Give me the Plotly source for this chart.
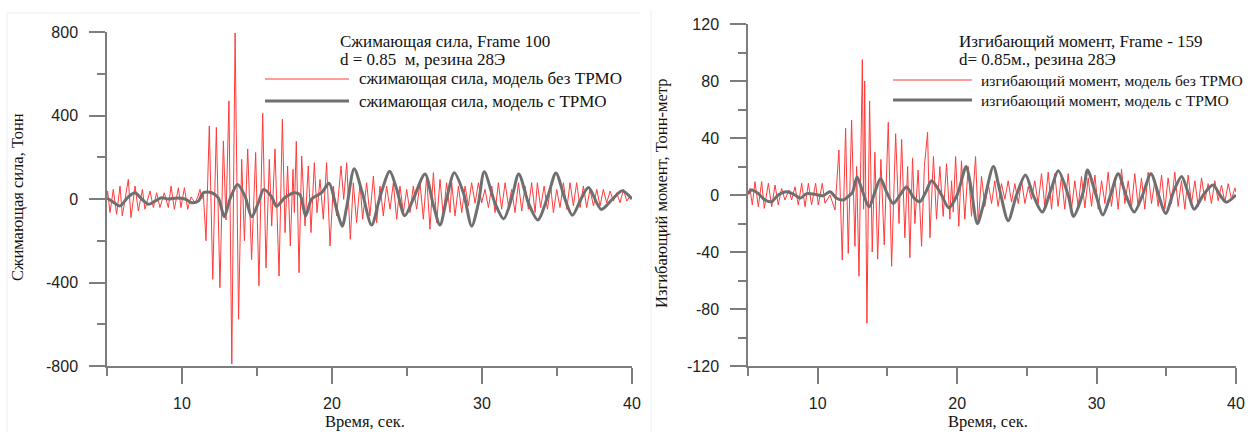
import plotly.graph_objects as go

# ---------------- Сжимающая сила, Frame 100 ----------------
force_t_free = [5.00, 5.04, 5.20, 5.42, 5.64, 5.87, 6.02, 6.42, 6.60, 6.87, 7.09, 7.36, 7.53, 7.87, 8.09,
                8.31, 8.53, 8.82, 9.09, 9.27, 9.49, 9.76, 9.93, 10.16, 10.38, 10.60, 10.87, 11.05, 11.20,
                11.32, 11.42, 11.60, 11.82, 12.05, 12.29, 12.53, 12.76, 12.93, 13.13, 13.32, 13.54, 13.77,
                13.98, 14.16, 14.38, 14.64, 14.91, 15.13, 15.38, 15.60, 15.82, 15.98, 16.20, 16.47, 16.69,
                16.87, 17.04, 17.22, 17.40, 17.49, 17.62, 17.80, 17.98, 18.20, 18.42, 18.60, 18.82, 19.00,
                19.20, 19.42, 19.64, 19.87, 20.09, 20.31, 20.60, 20.78, 20.98, 21.22, 21.42, 21.64, 21.87,
                22.04, 22.31, 22.53, 22.76, 22.98, 23.20, 23.42, 23.64, 23.87, 24.09, 24.31, 24.53, 24.76,
                24.98, 25.20, 25.42, 25.64, 25.87, 26.09, 26.31, 26.53, 26.76, 26.98, 27.20, 27.42, 27.64,
                27.87, 27.98, 28.20, 28.43, 28.65, 28.87, 29.09, 29.31, 29.54, 29.76, 29.98, 30.20, 30.43,
                30.65, 30.87, 31.09, 31.31, 31.54, 31.76, 31.98, 32.20, 32.43, 32.65, 32.87, 33.09, 33.31,
                33.54, 33.69, 33.91, 34.14, 34.36, 34.58, 34.76, 34.98, 35.20, 35.43, 35.65, 35.87, 36.09,
                36.31, 36.54, 36.76, 36.98, 37.20, 37.43, 37.65, 37.87, 38.09, 38.31, 38.54, 38.76, 38.98,
                39.20, 39.43, 39.65, 39.87, 40.00]
force_v_free = [10, 38, -65, 46, -73, 62, -81, 94, -89, 62, -57, 46, -49, 38, -41,
                30, -41, 30, -41, 62, -49, 54, -41, 54, -49, 10, -18, 10, 46,
                0, 30, -200, 350, -385, 343, -425, 278, -100, 470, -790, 795, -576,
                190, -200, 240, -290, 223, -416, 410, -330, 190, -130, 240, -369, 382,
                -161, 158, -225, 142, -65, 276, -353, 206, -129, 158, -161, 174, -65,
                94, -97, 174, -225, 62, -81, 158, -2, 174, -193, 78, -113, 78,
                -97, 78, -81, 110, -113, 62, -81, 62, -49, 78, -97, 62, -65,
                46, -65, 62, -49, 78, -97, 110, -145, 126, -113, 94, -81, 78,
                -65, 78, -81, 62, -65, 62, -33, 78, -20, 78, -18, 46, -41,
                62, -65, 78, -49, 78, -33, 46, -65, 78, -57, 62, -49, 78,
                -65, 78, -41, 62, -49, 62, -65, 46, -41, 78, -49, 78, -33,
                78, -41, 62, -41, 46, -33, 46, -33, 46, -18, 38, -10, 30,
                -18, 46, -10, 14, 0]

force_t_tmd = [5.00, 5.42, 5.87, 6.42, 6.87, 7.31, 7.76, 8.20, 8.64, 9.09, 9.64, 10.20, 10.64, 11.09,
               11.42, 11.98, 12.42, 12.82, 13.20, 13.70, 14.20, 14.64, 15.09, 15.45, 15.98, 16.30, 16.87,
               17.53, 17.87, 18.24, 18.64, 19.31, 19.80, 20.31, 20.68, 21.00, 21.48, 22.02, 22.64, 23.20,
               23.85, 24.30, 24.85, 25.42, 26.20, 26.76, 27.20, 27.64, 28.15, 28.76, 29.31, 29.76, 30.15,
               30.87, 31.45, 32.00, 32.45, 33.10, 33.72, 34.42, 34.93, 35.53, 36.02, 36.60, 37.10, 37.95,
               38.70, 39.35, 40.00]
force_v_tmd = [5, -15, -33, 10, 30, 0, -25, -10, 6, 0, 5, 0, -18, -10,
               30, 30, 5, -85, 0, 70, 14, -85, -18, 46, 10, -35, 7,
               30, 20, -81, 0, 30, 75, -50, -130, -30, 145, 30, -125, 10,
               133, 50, -80, 0, 120, -30, -125, 0, 126, 30, -130, -20, 130,
               -20, -95, 10, 120, -20, -100, 20, 125, 0, -78, 0, 55, -50,
               0, 40, 0]

force_ticks = [-800, -400, 0, 400, 800]
force_tick_text = ["-800", "-400", "0", "400", "800"]

# ---------------- Изгибающий момент, Frame - 159 ----------------
moment_t_free = [5.00, 5.14, 5.31, 5.50, 5.74, 5.98, 6.17, 6.46, 6.70, 6.94, 7.17, 7.41, 7.65, 7.94, 8.13,
                 8.37, 8.61, 8.85, 9.09, 9.33, 9.56, 9.85, 10.04, 10.33, 10.52, 10.88, 11.24, 11.52, 11.76,
                 12.00, 12.19, 12.43, 12.67, 12.79, 12.96, 13.20, 13.29, 13.37, 13.53, 13.72, 13.91, 14.10,
                 14.30, 14.53, 14.77, 15.06, 15.30, 15.59, 15.83, 16.02, 16.25, 16.45, 16.61, 16.80, 16.97,
                 17.20, 17.45, 17.65, 17.88, 18.05, 18.30, 18.52, 18.76, 19.00, 19.24, 19.48, 19.60, 19.72,
                 19.89, 20.12, 20.31, 20.55, 20.79, 21.03, 21.32, 21.51, 21.75, 21.99, 22.23, 22.47, 22.70,
                 22.94, 23.18, 23.42, 23.66, 23.90, 24.14, 24.38, 24.62, 24.86, 25.10, 25.33, 25.57, 25.81,
                 26.05, 26.29, 26.53, 26.77, 27.00, 27.24, 27.48, 27.72, 27.96, 28.20, 28.44, 28.68, 28.92,
                 29.16, 29.40, 29.64, 29.88, 30.12, 30.36, 30.60, 30.83, 31.07, 31.31, 31.55, 31.79, 32.03,
                 32.27, 32.50, 32.74, 32.98, 33.22, 33.46, 33.70, 33.94, 34.18, 34.42, 34.66, 34.90, 35.13,
                 35.37, 35.61, 35.85, 36.09, 36.33, 36.57, 36.81, 37.05, 37.29, 37.53, 37.77, 38.00, 38.24,
                 38.48, 38.72, 38.96, 39.20, 39.44, 39.68, 39.92, 40.00]
moment_v_free = [0, 4.7, -7, 9.4, -8.2, 9.4, -9.4, 8.2, -8.2, 7, -7, 4.7, -3.5, 3.5, -3.5,
                 5.8, -7, 8.2, -8.2, 8.2, -7, 8.2, -7, 8.2, -5.8, 0, -10.5, 31.6, -45.6,
                 46.8, -41, 52.6, -36, 20, -57, 95, -10, 80, -90, 66, -40, 30,
                 -45, 25, -35, 51, -50, 43, -20, 39, -30, 20, -44, 26, -20,
                 17.5, -36, 20, 44, -30, 27, -17, 20, -15, 22, -17, 10, -12,
                 27, -22, 24, -17, 20, -15, 27, -20, 13, -8, 8, -6, 10,
                 -8, 8, -3, 10, -5, 8, -6, 10, -6, 6, -3, 10, -6,
                 15, -8, 16, -10, 15, -8, 13, -10, 15, -10, 10, -8, 13,
                 -9, 12, -8, 14, -10, 10, -6, 16, -8, 12, -10, 18, -6,
                 10, -9, 15, -8, 12, -10, 16, -6, 10, -8, 14, -10, 12,
                 -6, 16, -8, 10, -10, 14, -6, 10, -8, 12, -4, 8, -6,
                 10, -4, 7, -5, 8, -3, 5, 2]

moment_t_tmd = [5.00, 5.26, 5.74, 6.22, 6.70, 7.17, 7.77, 8.37, 8.73, 9.21, 9.80, 10.40, 10.88, 11.36,
                11.83, 12.19, 12.50, 12.82, 13.20, 13.68, 14.10, 14.51, 14.94, 15.42, 15.90, 16.37, 16.90,
                17.33, 17.75, 18.17, 18.88, 19.40, 20.00, 20.65, 20.95, 21.45, 21.85, 22.60, 23.06, 23.66,
                24.26, 24.90, 25.45, 26.10, 26.77, 27.25, 27.96, 28.35, 29.04, 29.35, 29.90, 30.45, 31.00,
                31.55, 32.10, 32.70, 33.30, 33.90, 34.45, 34.95, 35.55, 36.10, 36.55, 37.00, 37.65, 38.35,
                38.85, 39.30, 40.00]
moment_v_tmd = [1, 3.5, 1, -3.5, -4.7, 0, 2.3, 0, -2.3, 1, 0.5, -0.5, 2.3, -2.3,
                -3.5, -1, 2, 12.6, 3, -8.4, 2, 11.5, 2, -6, 0, 5.6, -2,
                -4.7, 2, 10, 0, -9, 0, 20, 8, -20, -8, 20, 3, -18,
                0, 14, 0, -12, 5, 17, 0, -15, 2, 17.5, 2, -14, 0,
                15, 0, -12, 0, 15, 0, -13, 3, 13, 2, -10, 0, 7,
                0, -5, 0]

moment_ticks = [-120, -80, -40, 0, 40, 80, 120]
moment_tick_text = ["-120", "-80", "-40", "0", "40", "80", "120"]

time_ticks = [10, 20, 30, 40]
time_tick_text = ["10", "20", "30", "40"]

RED = "#ff3b3b"
GRAY = "#6f6f6f"
AXIS = "#7d7d7d"
TICK_FONT = dict(family="Liberation Sans, Arial", size=16, color="#222222")
SERIF = "Liberation Serif, Times New Roman"
TXT = "#111111"

W, H = 1250, 432


def px(x):
    return x / W


def py(y):
    return (H - y) / H


fig = go.Figure()
fig.add_trace(go.Scatter(x=force_t_free, y=force_v_free, mode="lines",
                         line=dict(color=RED, width=1), xaxis="x", yaxis="y"))
fig.add_trace(go.Scatter(x=force_t_tmd, y=force_v_tmd, mode="lines",
                         line=dict(color=GRAY, width=3, shape="spline", smoothing=0.8),
                         xaxis="x", yaxis="y"))
fig.add_trace(go.Scatter(x=moment_t_free, y=moment_v_free, mode="lines",
                         line=dict(color=RED, width=1), xaxis="x2", yaxis="y2"))
fig.add_trace(go.Scatter(x=moment_t_tmd, y=moment_v_tmd, mode="lines",
                         line=dict(color=GRAY, width=3, shape="spline", smoothing=0.8),
                         xaxis="x2", yaxis="y2"))


def xaxis_cfg(domain, anchor):
    return dict(domain=domain, anchor=anchor, range=[5, 40], showgrid=False, zeroline=False,
                showline=True, linecolor=AXIS, linewidth=1.5, ticks="outside", ticklen=16,
                tickwidth=1.5, tickcolor=AXIS, tickvals=time_ticks, ticktext=time_tick_text,
                tickfont=TICK_FONT, ticklabelstandoff=6, automargin=False,
                minor=dict(tickvals=[5, 15, 25, 35], ticklen=8, tickwidth=1.5, tickcolor=AXIS,
                           ticks="outside", showgrid=False))


def yaxis_cfg(domain, anchor, rng, major, labels, minor):
    return dict(domain=domain, anchor=anchor, range=rng, showgrid=False, zeroline=False,
                showline=True, linecolor=AXIS, linewidth=1.5, ticks="outside", ticklen=16,
                tickwidth=1.5, tickcolor=AXIS, tickvals=major, ticktext=labels, tickfont=TICK_FONT,
                ticklabelstandoff=8, automargin=False,
                minor=dict(tickvals=minor, ticklen=8, tickwidth=1.5, tickcolor=AXIS,
                           ticks="outside", showgrid=False))


fig.update_layout(
    width=W, height=H, autosize=False, showlegend=False,
    margin=dict(l=0, r=0, t=0, b=0),
    paper_bgcolor="white", plot_bgcolor="white",
    xaxis=xaxis_cfg([px(107), px(632)], "y"),
    yaxis=yaxis_cfg([py(366), py(32)], "x", [-800, 800], force_ticks, force_tick_text,
                    [-600, -200, 200, 600]),
    xaxis2=xaxis_cfg([px(748), px(1236)], "y2"),
    yaxis2=yaxis_cfg([py(366), py(24)], "x2", [-120, 120], moment_ticks, moment_tick_text,
                     [-100, -60, -20, 20, 60, 100]),
)

annotations = []
shapes = []


def text(x, y, s, size=17, anchor="left", angle=0):
    annotations.append(dict(x=px(x), y=py(y), xref="paper", yref="paper", text=s, showarrow=False,
                            xanchor=anchor, yanchor="middle", textangle=angle,
                            font=dict(family=SERIF, size=size, color=TXT)))


def sample(x0, x1, y, color, width):
    shapes.append(dict(type="line", xref="paper", yref="paper", x0=px(x0), x1=px(x1),
                       y0=py(y), y1=py(y), line=dict(color=color, width=width)))


# axis titles
text(17, 197, "Сжимающая сила, Тонн", size=16.5, anchor="center", angle=-90)
text(661, 194, "Изгибающий момент, Тонн-метр", size=16.5, anchor="center", angle=-90)
text(365, 421, "Время, сек.", size=16.5, anchor="center")
text(988, 421, "Время, сек.", size=16.5, anchor="center")

# legend block, left panel
text(338, 42, "Сжимающая сила, Frame 100")
text(338, 60, "d = 0.85  м, резина 28Э")
sample(265, 349, 79, RED, 1)
text(357, 79, "сжимающая сила, модель без ТРМО")
sample(265, 349, 101, GRAY, 3)
text(357, 101, "сжимающая сила, модель с ТРМО")

# legend block, right panel
text(957, 42, "Изгибающий момент, Frame - 159")
text(957, 60, "d= 0.85м., резина 28Э")
sample(893, 972, 80, RED, 1)
text(979, 80, "изгибающий момент, модель без ТРМО", size=15.5)
sample(893, 972, 100, GRAY, 3)
text(979, 100, "изгибающий момент, модель с ТРМО", size=15.5)

# faint frame edges of the two panels
shapes.append(dict(type="line", xref="paper", yref="paper", x0=px(7), x1=px(7), y0=py(13), y1=0,
                   line=dict(color="#eeeeee", width=1)))
shapes.append(dict(type="line", xref="paper", yref="paper", x0=px(7), x1=px(640), y0=py(13), y1=py(13),
                   line=dict(color="#eeeeee", width=1)))
shapes.append(dict(type="line", xref="paper", yref="paper", x0=px(651), x1=px(651), y0=py(10), y1=0,
                   line=dict(color="#eeeeee", width=1)))

fig.update_layout(annotations=annotations, shapes=shapes)

fig.write_html("out.html")
